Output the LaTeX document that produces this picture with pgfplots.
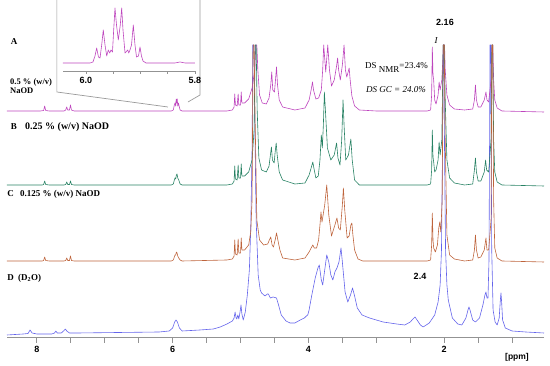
\documentclass[border=0pt]{standalone}
\usepackage{pgfplots}
\pgfplotsset{compat=1.18}
\usepackage{fontspec}
\setmainfont{Liberation Serif}
\newfontfamily\sansf{Liberation Sans}
\definecolor{cA}{RGB}{190,70,190}
\definecolor{cB}{RGB}{40,130,100}
\definecolor{cC}{RGB}{190,100,60}
\definecolor{cD}{RGB}{100,100,235}
\begin{document}
\begin{tikzpicture}
\useasboundingbox (0,0) rectangle (550pt,366pt);
\begin{axis}[
 scale only axis, width=537pt, height=338pt,
 at={(7pt,28pt)}, anchor=south west,
 xmin=0.53, xmax=8.44, x dir=reverse,
 ymin=-338, ymax=0,
 axis x line*=bottom, axis y line=none,
 axis line style={draw=gray!85, line width=1pt, -},
 xtick={2,4,6,8}, xticklabels={2,4,6,8},
 minor xtick={1,1.5,2.5,3,3.5,4.5,5,5.5,6.5,7,7.5},
 tick align=outside, major tick length=5pt, minor tick length=5pt,
 every tick/.style={draw=gray!85, line width=0.8pt},
 xticklabel style={font=\sansf\bfseries\fontsize{9}{9}\selectfont},
 clip=false,
 every axis plot/.append style={line width=0.6pt, line join=round},
]
\addplot[cD] coordinates {(8.44,-335)(8.20,-334)(8.13,-333.5)(8.10,-330)(8.07,-333)(8.00,-334)(7.78,-334)(7.74,-333)(7.72,-331)(7.70,-333)(7.64,-333)(7.60,-330.5)(7.58,-329)(7.56,-331)(7.52,-333)(7.40,-333)(6.20,-332)(6.05,-331)(6.00,-328)(5.97,-322)(5.95,-320)(5.93,-322)(5.90,-328)(5.86,-331)(5.60,-330)(5.40,-329)(5.30,-327)(5.20,-324)(5.12,-321)(5.095,-318)(5.08,-312)(5.065,-318)(5.055,-319)(5.04,-315)(5.025,-319)(5.005,-311)(4.993,-305)(4.98,-314)(4.96,-320)(4.93,-312)(4.90,-295)(4.87,-270)(4.85,-230)(4.83,-150)(4.82,-45)(4.805,-45)(4.79,-120)(4.77,-220)(4.74,-275)(4.71,-290)(4.69,-293)(4.64,-296)(4.605,-294)(4.59,-294)(4.56,-298)(4.52,-297)(4.47,-298)(4.44,-305)(4.40,-315)(4.33,-321)(4.27,-323)(4.20,-323)(4.12,-320)(4.06,-318)(4.03,-316)(4.01,-315)(3.99,-310)(3.95,-295)(3.90,-278)(3.86,-268)(3.84,-265)(3.81,-280)(3.79,-285)(3.76,-270)(3.73,-255)(3.70,-262)(3.67,-275)(3.64,-280)(3.61,-272)(3.58,-268)(3.55,-262)(3.52,-248)(3.50,-262)(3.46,-292)(3.42,-302)(3.38,-295)(3.35,-288)(3.32,-296)(3.28,-308)(3.21,-315)(3.10,-318)(2.90,-322)(2.70,-324)(2.58,-325)(2.50,-322)(2.46,-319)(2.43,-317)(2.40,-320)(2.35,-325)(2.31,-327)(2.22,-323)(2.14,-315)(2.09,-302)(2.06,-285)(2.04,-250)(2.025,-150)(2.015,-45)(2.005,-45)(1.995,-150)(1.98,-250)(1.96,-285)(1.94,-300)(1.88,-318)(1.80,-324)(1.74,-325)(1.68,-318)(1.65,-310)(1.635,-307)(1.62,-310)(1.58,-320)(1.54,-322)(1.48,-318)(1.43,-305)(1.40,-295)(1.385,-292)(1.37,-298)(1.355,-298)(1.34,-260)(1.325,-45)(1.315,-45)(1.30,-250)(1.28,-310)(1.25,-322)(1.22,-325)(1.19,-318)(1.175,-302)(1.164,-293)(1.154,-302)(1.14,-320)(1.10,-328)(1.00,-331)(0.80,-332)(0.53,-333)};
\addplot[cA] coordinates {(8.44,-111)(7.95,-111)(7.90,-110.5)(7.885,-106)(7.87,-110.5)(7.82,-111)(7.60,-111)(7.575,-110)(7.56,-107)(7.545,-110)(7.52,-110)(7.505,-105)(7.49,-110)(7.45,-111)(6.02,-111)(5.99,-110)(5.975,-105)(5.965,-103)(5.955,-106)(5.948,-99)(5.940,-103)(5.932,-99)(5.925,-106)(5.915,-103)(5.905,-106)(5.89,-110)(5.86,-111)(5.20,-111)(5.12,-110)(5.095,-107)(5.085,-94)(5.075,-105)(5.05,-106)(5.035,-94)(5.025,-105)(5.00,-105)(4.99,-92)(4.98,-103)(4.94,-103)(4.88,-99)(4.83,-88)(4.79,-70)(4.775,-45)(4.76,-45)(4.745,-70)(4.72,-95)(4.68,-103)(4.62,-104)(4.58,-98)(4.555,-85)(4.54,-72)(4.525,-90)(4.50,-92)(4.485,-80)(4.47,-67)(4.455,-85)(4.43,-100)(4.38,-107)(4.20,-110)(4.05,-108)(3.99,-100)(3.96,-90)(3.94,-82)(3.925,-90)(3.89,-99)(3.85,-98)(3.81,-90)(3.79,-70)(3.775,-45)(3.745,-72)(3.715,-45)(3.69,-70)(3.66,-86)(3.62,-80)(3.585,-66)(3.57,-58)(3.555,-70)(3.53,-80)(3.50,-65)(3.475,-45)(3.455,-70)(3.435,-77)(3.415,-72)(3.40,-68)(3.385,-80)(3.36,-96)(3.32,-106)(3.25,-110)(3.0,-111)(2.25,-111)(2.20,-110)(2.185,-95)(2.175,-47)(2.165,-75)(2.155,-80)(2.14,-100)(2.12,-104)(2.09,-95)(2.075,-82)(2.06,-90)(2.035,-80)(2.01,-45)(1.995,-45)(1.985,-70)(1.96,-95)(1.92,-105)(1.85,-109)(1.70,-110)(1.58,-109)(1.555,-100)(1.54,-85)(1.525,-100)(1.50,-107)(1.46,-107)(1.41,-100)(1.385,-92)(1.37,-100)(1.345,-102)(1.31,-80)(1.298,-45)(1.285,-45)(1.272,-80)(1.255,-100)(1.22,-108)(1.15,-111)(0.53,-112)};
\addplot[cB] coordinates {(8.44,-185)(7.92,-185)(7.90,-184.5)(7.885,-181)(7.87,-184.5)(7.82,-185)(7.60,-185)(7.575,-184.5)(7.56,-182)(7.545,-184.5)(7.52,-184.5)(7.505,-181)(7.49,-184.5)(7.45,-185)(6.02,-185)(5.99,-184)(5.975,-180)(5.965,-178)(5.955,-179)(5.945,-175)(5.935,-174)(5.925,-178)(5.91,-180)(5.89,-184)(5.86,-185)(5.20,-185)(5.12,-184)(5.095,-181)(5.085,-166)(5.075,-179)(5.05,-180)(5.035,-165)(5.025,-178)(5.00,-178)(4.99,-164)(4.98,-176)(4.94,-176)(4.88,-172)(4.83,-160)(4.80,-130)(4.785,-45)(4.77,-45)(4.755,-110)(4.73,-158)(4.69,-170)(4.62,-172)(4.58,-166)(4.56,-155)(4.545,-147)(4.53,-160)(4.505,-163)(4.49,-152)(4.475,-143)(4.46,-155)(4.43,-172)(4.38,-180)(4.20,-184)(4.05,-183)(3.99,-175)(3.96,-168)(3.935,-162)(3.92,-168)(3.89,-178)(3.855,-176)(3.83,-160)(3.81,-135)(3.795,-148)(3.78,-125)(3.765,-92)(3.75,-110)(3.72,-148)(3.67,-160)(3.62,-155)(3.585,-143)(3.565,-158)(3.535,-165)(3.51,-140)(3.49,-100)(3.475,-125)(3.45,-160)(3.41,-155)(3.375,-139)(3.355,-160)(3.32,-180)(3.25,-185)(2.25,-185)(2.20,-184)(2.185,-170)(2.175,-130)(2.165,-157)(2.155,-162)(2.14,-172)(2.12,-170)(2.09,-160)(2.075,-142)(2.06,-155)(2.035,-140)(2.015,-45)(2.0,-45)(1.985,-100)(1.96,-160)(1.92,-178)(1.85,-183)(1.70,-185)(1.58,-184)(1.555,-170)(1.54,-158)(1.525,-172)(1.50,-181)(1.46,-181)(1.41,-172)(1.39,-160)(1.375,-170)(1.345,-172)(1.31,-140)(1.298,-45)(1.285,-45)(1.272,-140)(1.255,-172)(1.22,-182)(1.15,-185)(0.53,-186)};
\addplot[cC] coordinates {(8.44,-261)(7.92,-261)(7.90,-260.5)(7.885,-257)(7.87,-260.5)(7.82,-261)(7.60,-261)(7.575,-260.5)(7.56,-258)(7.545,-260.5)(7.52,-260.5)(7.505,-256)(7.49,-260.5)(7.45,-261)(6.02,-261)(5.99,-260)(5.975,-257)(5.965,-255)(5.955,-255)(5.945,-252)(5.935,-253)(5.925,-256)(5.91,-258)(5.89,-260)(5.86,-261)(5.20,-260)(5.12,-259)(5.095,-256)(5.085,-240)(5.075,-254)(5.05,-255)(5.035,-239)(5.025,-253)(5.00,-253)(4.99,-238)(4.98,-250)(4.94,-250)(4.88,-245)(4.85,-232)(4.83,-200)(4.815,-45)(4.80,-45)(4.785,-120)(4.76,-220)(4.72,-240)(4.66,-245)(4.60,-244)(4.575,-240)(4.555,-237)(4.535,-245)(4.515,-247)(4.49,-240)(4.47,-233)(4.45,-240)(4.42,-250)(4.38,-258)(4.20,-260)(4.05,-258)(3.99,-252)(3.96,-248)(3.935,-245)(3.915,-248)(3.88,-248)(3.85,-240)(3.83,-225)(3.815,-212)(3.80,-222)(3.76,-205)(3.73,-185)(3.70,-215)(3.66,-236)(3.61,-225)(3.58,-218)(3.555,-228)(3.53,-230)(3.50,-205)(3.485,-188)(3.465,-210)(3.43,-238)(3.40,-236)(3.375,-225)(3.36,-223)(3.345,-235)(3.32,-250)(3.27,-259)(3.20,-261)(2.25,-261)(2.20,-260)(2.185,-245)(2.175,-213)(2.165,-240)(2.155,-248)(2.13,-252)(2.10,-245)(2.08,-228)(2.065,-222)(2.05,-232)(2.03,-200)(2.015,-45)(2.0,-45)(1.985,-140)(1.96,-235)(1.92,-255)(1.85,-259)(1.70,-261)(1.58,-260)(1.555,-250)(1.54,-235)(1.525,-250)(1.50,-258)(1.46,-257)(1.41,-250)(1.385,-238)(1.37,-250)(1.345,-250)(1.31,-220)(1.298,-45)(1.285,-45)(1.272,-200)(1.255,-248)(1.22,-258)(1.15,-261)(0.53,-262)};
\draw[gray!80, line width=0.7pt] (axis cs:7.705,0) -- (axis cs:7.705,-92) -- (axis cs:6.069,-107);
\draw[gray!80, line width=0.7pt] (axis cs:5.597,0) -- (axis cs:5.597,-95) -- (axis cs:5.774,-102);
\end{axis}
\begin{axis}[
 scale only axis, width=132pt, height=71pt,
 at={(63pt,295pt)}, anchor=south west,
 xmin=5.80, xmax=6.0422, x dir=reverse,
 ymin=-71, ymax=0,
 axis x line*=bottom, axis y line=none,
 axis line style={draw=gray!85, line width=0.8pt, -},
 xtick={5.8,6.0}, xticklabels={5.8,6.0},
 minor xtick={5.85,5.9,5.95},
 tick align=outside, major tick length=3pt, minor tick length=3pt,
 every tick/.style={draw=gray!85, line width=0.7pt},
 xticklabel style={font=\sansf\bfseries\fontsize{9}{9}\selectfont},
 clip=false,
]
\addplot[cA, line width=0.6pt, line join=round] coordinates {(6.0422,-63)(5.9927,-63)(5.9872,-62)(5.9835,-56)(5.9804,-48)(5.9771,-57)(5.9743,-58)(5.9712,-45)(5.9683,-30)(5.9651,-45)(5.9620,-56)(5.9591,-50)(5.9565,-53)(5.9541,-50)(5.9514,-52)(5.9492,-30)(5.9468,-8)(5.9440,-25)(5.9407,-40)(5.9371,-25)(5.9345,-8)(5.9321,-30)(5.9284,-53)(5.9235,-50)(5.9215,-53)(5.9193,-50)(5.9165,-45)(5.9132,-25)(5.9101,-45)(5.9073,-57)(5.9037,-56)(5.9009,-47)(5.8982,-56)(5.8954,-61)(5.8899,-63)(5.8367,-63)(5.8275,-62)(5.8183,-63)(5.8000,-63)};
\end{axis}
\node[font=\bfseries\fontsize{9}{9}\selectfont] at (14pt,324pt) {A};
\node[anchor=west, inner sep=0, font=\bfseries\fontsize{8.5}{8.5}\selectfont] at (10pt,284pt) {0.5 \% (w/v)};
\node[anchor=west, inner sep=0, font=\bfseries\fontsize{8.5}{8.5}\selectfont] at (10pt,275pt) {NaOD};
\node[font=\bfseries\fontsize{9}{9}\selectfont] at (14pt,239pt) {B};
\node[anchor=west, inner sep=0, font=\bfseries\fontsize{10}{10}\selectfont] at (25pt,239pt) {0.25 \% (w/v) NaOD};
\node[font=\bfseries\fontsize{9}{9}\selectfont] at (10.5pt,172pt) {C};
\node[anchor=west, inner sep=0, font=\bfseries\fontsize{9}{9}\selectfont] at (20pt,172pt) {0.125 \% (w/v) NaOD};
\node[font=\bfseries\fontsize{9}{9}\selectfont] at (10.5pt,88pt) {D};
\node[anchor=west, inner sep=0, font=\bfseries\fontsize{9}{9}\selectfont] at (18pt,88pt) {(D\textsubscript{2}O)};
\node[font=\sansf\bfseries\fontsize{9}{9}\selectfont] at (445pt,344pt) {2.16};
\node[font=\itshape\fontsize{9}{9}\selectfont] at (436pt,325pt) {I};
\node[anchor=west, inner sep=0, font=\fontsize{9}{9}\selectfont] at (365pt,298pt) {DS\raisebox{-4pt}{ NMR}=23.4\%};
\node[anchor=west, inner sep=0, font=\itshape\fontsize{9}{9}\selectfont] at (366pt,276pt) {DS GC = 24.0\%};
\node[font=\sansf\bfseries\fontsize{9}{9}\selectfont] at (420pt,90pt) {2.4};
\node[font=\sansf\bfseries\fontsize{8.5}{8.5}\selectfont] at (517pt,9pt) {[ppm]};
\end{tikzpicture}
\end{document}
